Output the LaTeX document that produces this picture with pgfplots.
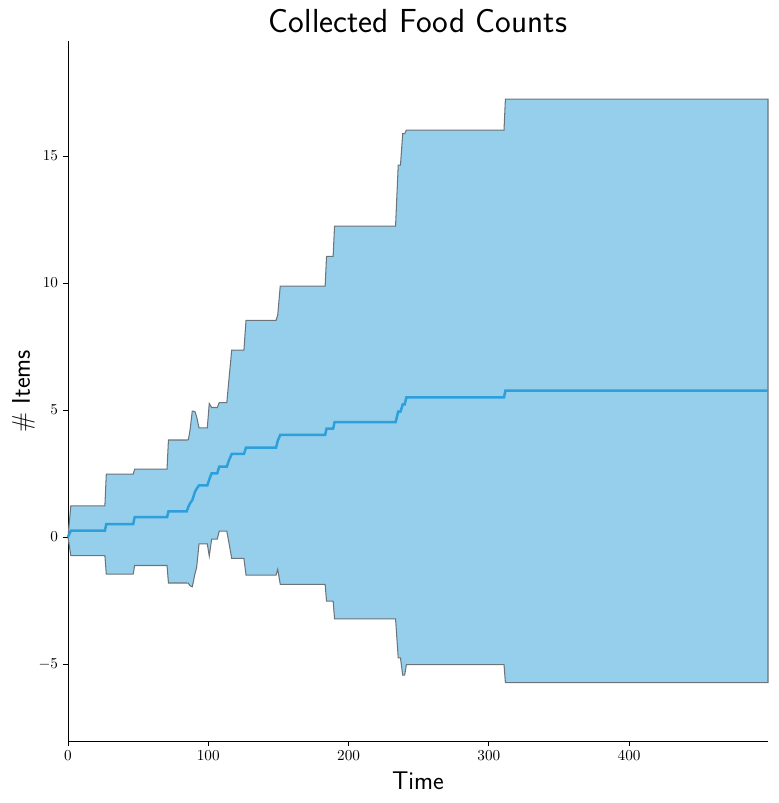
\documentclass[border=0pt]{standalone}
\usepackage{pgfplots}
\pgfplotsset{compat=1.18}
\usepackage{pgfplotstable}
\usepgfplotslibrary{fillbetween}

\definecolor{meanblue}{RGB}{45,160,220}
\definecolor{bandblue}{RGB}{150,207,235}
\definecolor{edgegray}{RGB}{108,116,122}

% time, mean, mean-std, mean+std
\pgfplotstableread{
t     m     lo     hi
0     0     0      0
2     0.25  -0.73  1.23
26.3  0.25  -0.73  1.23
27.3  0.51  -1.46  2.48
46.5  0.51  -1.46  2.48
47.5  0.78  -1.12  2.67
70.6  0.78  -1.12  2.67
71.6  1.01  -1.81  3.82
84.6  1.01  -1.81  3.82
85.8  1.19  -1.82  3.83
87.0  1.33  -1.92  4.21
88.6  1.45  -1.96  4.96
90.5  1.78  -1.45  4.94
91.7  1.90  -1.20  4.74
93.4  2.03  -0.27  4.30
99.3  2.03  -0.27  4.30
100.7 2.27  -0.75  5.26
102.4 2.51  -0.08  5.10
106.4 2.51  -0.08  5.10
107.8 2.77  0.23   5.29
113.2 2.77  0.23   5.29
114.8 3.03  -0.25  6.25
116.7 3.27  -0.84  7.36
125.4 3.27  -0.84  7.36
126.9 3.52  -1.50  8.53
148.3 3.52  -1.50  8.53
149.5 3.79  -1.27  8.74
151.3 4.02  -1.86  9.88
183.3 4.02  -1.86  9.88
184.3 4.27  -2.52  11.05
189.0 4.27  -2.52  11.05
190.0 4.52  -3.22  12.24
233.5 4.52  -3.22  12.24
235.4 4.94  -4.76  14.64
237.0 4.94  -4.76  14.64
238.6 5.22  -5.44  15.88
240.0 5.22  -5.44  15.88
241.2 5.50  -5.02  16.02
310.8 5.50  -5.02  16.02
311.8 5.76  -5.73  17.24
499   5.76  -5.73  17.24
}\foodtable

\begin{document}
\begin{tikzpicture}
\begin{axis}[
    at={(0,0)}, anchor=south west,
    scale only axis,
    width=504pt, height=504pt,
    xmin=0, xmax=499,
    ymin=-8.03, ymax=19.53,
    clip=false,
    axis x line*=bottom,
    axis y line*=left,
    axis line style={line width=0.7pt, -},
    xtick={0,100,200,300,400},
    ytick={-5,0,5,10,15},
    tick align=outside,
    major tick length=3.6pt,
    tick style={black, line width=0.7pt},
    ticklabel style={font=\fontsize{11}{13}\selectfont},
    title={Collected Food Counts},
    title style={font=\fontsize{24}{28}\selectfont\sffamily,
        at={(axis description cs:0.5,1)}, anchor=base, yshift=0pt},
    xlabel={Time},
    ylabel={\# Items},
    xlabel style={font=\fontsize{18.4}{22}\selectfont\sffamily,
        at={(axis description cs:0.5,0)}, anchor=base, yshift=-34.6pt},
    ylabel style={font=\fontsize{18.4}{22}\selectfont\sffamily,
        at={(axis description cs:0,0.5)}, anchor=base, yshift=27.4pt, xshift=0pt},
]
\addplot[draw=none, name path=upper] table[x=t, y=hi] {\foodtable};
\addplot[draw=none, name path=lower] table[x=t, y=lo] {\foodtable};
\addplot[fill=bandblue, draw=edgegray, line width=0.75pt]
    fill between[of=upper and lower];
\addplot[meanblue, line width=1.8pt] table[x=t, y=m] {\foodtable};
\end{axis}
\path (-48.96pt,-44.64pt) rectangle (511.2pt,533.52pt);
\end{tikzpicture}
\end{document}
